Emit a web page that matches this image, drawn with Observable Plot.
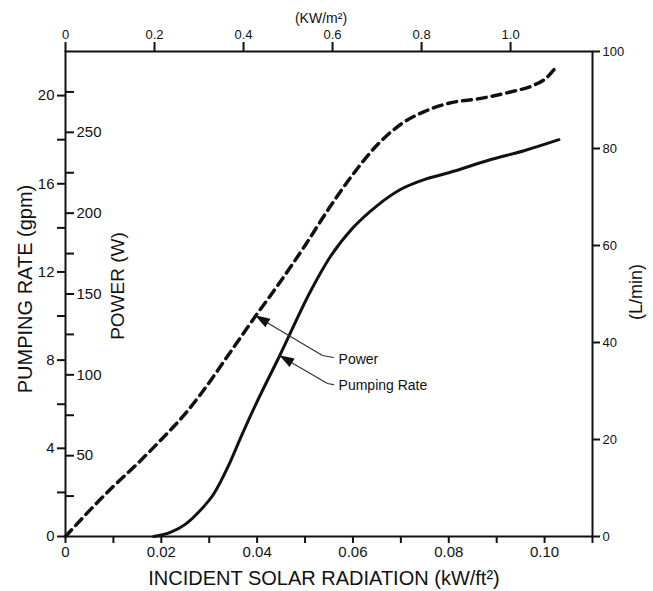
<!DOCTYPE html>
<html><head><meta charset="utf-8">
<script src="https://cdn.jsdelivr.net/npm/d3@7"></script>
<script src="https://cdn.jsdelivr.net/npm/@observablehq/plot@0.6"></script>
<style>html,body{margin:0;padding:0;background:#fff}svg{display:block}</style>
</head><body><div id="chart"></div>
<script>
// ---- data ----
// Power curve: incident solar radiation (kW/ft²) vs power (W)
const powerX = [0, 0.005, 0.01, 0.015, 0.02, 0.025, 0.0282, 0.0344, 0.0397, 0.0435, 0.05, 0.055, 0.06, 0.065, 0.07, 0.075, 0.08, 0.0867, 0.0936, 0.0972, 0.1003, 0.1026];
const powerW = [0, 16, 31, 45, 60, 76, 88, 114, 136.5, 152, 180, 203, 224, 242, 255, 263, 268, 271, 275.5, 278.5, 283.5, 291];
// Pumping-rate curve: radiation (kW/ft²) vs pumping rate (gpm)
const pumpX = [0.0184, 0.022, 0.025, 0.0282, 0.031, 0.034, 0.0365, 0.0393, 0.0447, 0.0512, 0.055, 0.06, 0.065, 0.07, 0.075, 0.08, 0.0888, 0.0957, 0.103];
const pumpGpm = [0, 0.2, 0.55, 1.2, 1.95, 3.2, 4.45, 5.8, 8.2, 11.15, 12.6, 14.0, 15.0, 15.75, 16.2, 16.5, 17.1, 17.5, 18.0];

// axis ticks
const xTicks = [0, 0.02, 0.04, 0.06, 0.08, 0.10];
const xMinorTicks = [0.01, 0.03, 0.05, 0.07, 0.09, 0.11];
const kwm2Ticks = [0, 0.2, 0.4, 0.6, 0.8, 1.0];
const gpmTicks = [0, 4, 8, 12, 16, 20];
const gpmMinorTicks = [2, 6, 10, 14, 18];
const powerTicks = [50, 100, 150, 200, 250];
const powerMinorTicks = [25, 75, 125, 175, 225, 275];
const lpmTicks = [0, 20, 40, 60, 80, 100];

// axis ranges / unit conversions
const X_MAX = 0.11;        // kW/ft²
const GPM_MAX = 22;        // left axis top
const POWER_MAX = 300;     // power axis top
const LPM_MAX = 100;       // right axis top
const FT2_PER_M2 = 0.092903;

// annotation labels (anchors in data units: radiation, gpm)
const annLabels = ["Power", "Pumping Rate"];
const annTipX = [0.03966, 0.0447];
const annTipY = [136.5 * GPM_MAX / POWER_MAX, 8.2];
const annKneeX = [0.05364, 0.05469];
const annKneeY = [8.21, 6.94];
const annEndX = [0.05594, 0.05594];
const annEndY = [8.12, 6.89];
const annTextX = [0.0570, 0.0570];
const annTextY = [8.02, 6.85];

// ---- build tables ----
const powerData = powerX.map((x, i) => ({x, y: powerW[i] * GPM_MAX / POWER_MAX}));
const pumpData = pumpX.map((x, i) => ({x, y: pumpGpm[i]}));
const annotations = annLabels.map((label, i) => ({
  label, tipX: annTipX[i], tipY: annTipY[i], kneeX: annKneeX[i], kneeY: annKneeY[i],
  endX: annEndX[i], endY: annEndY[i], textX: annTextX[i], textY: annTextY[i]
}));
const leaderPts = annotations.flatMap(a => [
  {label: a.label, x: a.tipX, y: a.tipY},
  {label: a.label, x: a.kneeX, y: a.kneeY},
  {label: a.label, x: a.endX, y: a.endY}
]);

const W = 653, H = 591;
const mL = 65, mR = 61, mT = 51, mB = 55;
const plotW = W - mL - mR;
const ink = "#111";
const font = "'Liberation Sans', Arial, Helvetica, sans-serif";
const fmtX = d => d === 0 ? "0" : d.toFixed(2);
const fmtTop = d => { const v = d / FT2_PER_M2; return Math.abs(v) < 1e-9 ? "0" : v.toFixed(1); };

function arrowHeads(index, scales) {
  const ns = "http://www.w3.org/2000/svg";
  const g = document.createElementNS(ns, "g");
  for (const a of annotations) {
    const tx = scales.x(a.tipX), ty = scales.y(a.tipY);
    const kx = scales.x(a.kneeX), ky = scales.y(a.kneeY);
    const dx = kx - tx, dy = ky - ty, len = Math.hypot(dx, dy);
    const ux = dx / len, uy = dy / len;
    const L = 15, hw = 5;
    const bx = tx + ux * L, by = ty + uy * L;
    const pts = [[tx, ty], [bx - uy * hw, by + ux * hw], [bx + uy * hw, by - ux * hw]];
    const p = document.createElementNS(ns, "path");
    p.setAttribute("d", "M" + pts.map(q => q.join(",")).join("L") + "Z");
    p.setAttribute("fill", ink);
    g.appendChild(p);
  }
  return g;
}

const title = (text, o) => Plot.text([text], {text: d => d, textAnchor: "middle", lineAnchor: "middle", fill: ink, ...o});

const chart = Plot.plot({
  width: W, height: H,
  marginLeft: mL, marginRight: mR, marginTop: mT, marginBottom: mB,
  style: {fontFamily: font, color: ink, background: "#fff", overflow: "visible"},
  x: {domain: [0, X_MAX]},
  y: {domain: [0, GPM_MAX]},
  marks: [
    Plot.frame({stroke: ink, strokeWidth: 2}),
    // bottom axis
    Plot.axisX(xTicks, {anchor: "bottom", tickSize: 7, tickPadding: 3, fontSize: 15, tickFormat: fmtX, label: null, strokeWidth: 2}),
    Plot.axisX(xMinorTicks, {anchor: "bottom", tickSize: 7, tickFormat: () => "", label: null, strokeWidth: 2}),
    // top axis (kW/m²)
    Plot.axisX(kwm2Ticks.map(v => v * FT2_PER_M2), {anchor: "top", tickSize: 10, tickPadding: 3, fontSize: 13, tickFormat: fmtTop, label: null, strokeWidth: 2}),
    // left gpm axis
    Plot.axisY(gpmTicks, {anchor: "left", tickSize: 8, tickPadding: 3, fontSize: 15, label: null, strokeWidth: 2}),
    Plot.axisY(gpmMinorTicks, {anchor: "left", tickSize: 8, tickFormat: () => "", label: null, strokeWidth: 2}),
    // power axis (inside, along left edge)
    Plot.axisY(powerTicks.map(p => p * GPM_MAX / POWER_MAX), {anchor: "right", dx: -plotW, tickSize: 8, tickPadding: 3, fontSize: 15, tickFormat: d => String(Math.round(d * POWER_MAX / GPM_MAX)), label: null, strokeWidth: 2}),
    Plot.axisY(powerMinorTicks.map(p => p * GPM_MAX / POWER_MAX), {anchor: "right", dx: -plotW, tickSize: 8, tickFormat: () => "", label: null, strokeWidth: 2}),
    // right L/min axis
    Plot.axisY(lpmTicks.map(v => v * GPM_MAX / LPM_MAX), {anchor: "right", tickSize: 7, tickPadding: 3, fontSize: 13, tickFormat: d => String(Math.round(d * LPM_MAX / GPM_MAX)), label: null, strokeWidth: 2}),
    // curves
    Plot.line(powerData, {x: "x", y: "y", curve: "monotone-x", stroke: ink, strokeWidth: 3.5, strokeDasharray: "9,6"}),
    Plot.line(pumpData, {x: "x", y: "y", curve: "monotone-x", stroke: ink, strokeWidth: 3}),
    // annotations
    Plot.line(leaderPts, {x: "x", y: "y", z: "label", stroke: "#333", strokeWidth: 1.2}),
    arrowHeads,
    Plot.text(annotations, {x: "textX", y: "textY", text: "label", textAnchor: "start", fontSize: 14, fill: ink}),
    // axis titles
    title("(KW/m²)", {frameAnchor: "top", dx: -8, dy: -33, fontSize: 14}),
    title("INCIDENT SOLAR RADIATION (kW/ft²)", {frameAnchor: "bottom", dx: -5, dy: 42, fontSize: 20}),
    title("PUMPING RATE (gpm)", {frameAnchor: "left", dx: -40, dy: -5, rotate: -90, fontSize: 20}),
    title("POWER (W)", {frameAnchor: "left", dx: 52, dy: -8, rotate: -90, fontSize: 19}),
    title("(L/min)", {frameAnchor: "right", dx: 44, dy: -2, rotate: -90, fontSize: 18})
  ]
});
document.getElementById("chart").appendChild(chart);
</script>
</body></html>
